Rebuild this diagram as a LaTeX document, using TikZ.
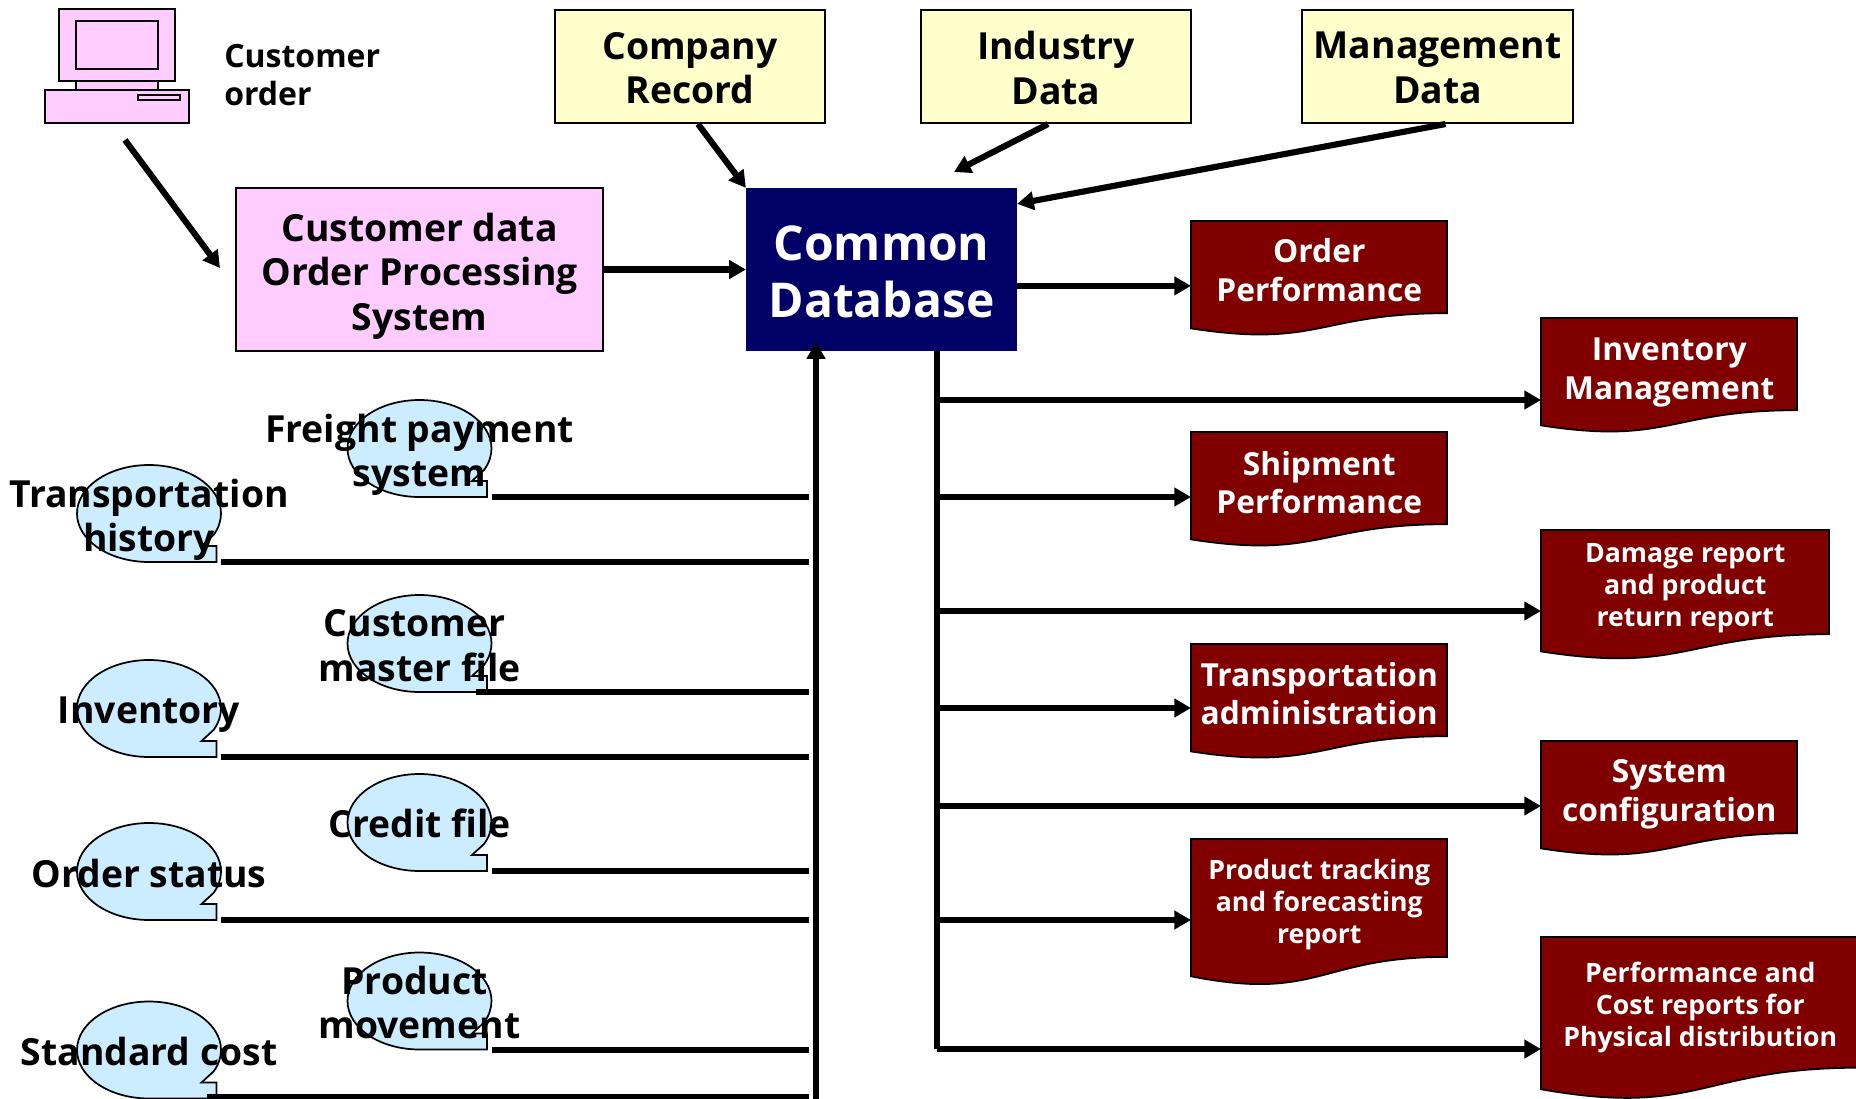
\documentclass[tikz,border=0pt]{standalone}
\usepackage{fontspec}
\setmainfont{Open Sans}
\usetikzlibrary{arrows.meta}

\definecolor{recordyellow}{HTML}{FFFFCC}
\definecolor{orderpink}{HTML}{FFCCFF}
\definecolor{filesblue}{HTML}{CCECFF}
\definecolor{reportred}{HTML}{800000}
\definecolor{dbnavy}{HTML}{000066}

\tikzset{
	thinline/.style={draw=black,line width=1.3pt},
	flow/.style={line width=4.6pt,draw=black},
	flowarrow/.style={flow,-{Triangle[length=12.5pt,width=13.5pt]}},
	boxtext/.style={inner sep=0pt,align=center,font=\bfseries\fontsize{28}{33.3}\selectfont},
	recordbox/.style={thinline,fill=recordyellow,minimum width=203pt,minimum height=85pt,inner sep=0pt},
	orderbox/.style={thinline,fill=orderpink,minimum width=275pt,minimum height=122pt,inner sep=0pt},
	dbbox/.style={fill=dbnavy,minimum width=203pt,minimum height=122pt,inner sep=0pt},
	dbtext/.style={text=white,inner sep=0pt,align=center,font=\bfseries\fontsize{36}{42.6}\selectfont},
	reportbig/.style={font=\bfseries\fontsize{23.8}{29}\selectfont},
	reportsmall/.style={font=\bfseries\fontsize{20}{24}\selectfont},
}

% name, x, y, width, height, font style, text
\newcommand{\reportnode}[7]{
	\begin{scope}[shift={(#2,#3+1)}]
		\draw [thinline,fill=reportred] (0,0) -- (#4,0) -- (#4,{0.802*#5}) .. controls ({0.5*#4},{0.802*#5}) and ({0.5*#4},{1.107*#5}) .. (0,{0.934*#5}) -- cycle;
		\node (#1) [anchor=north west,#6,text=white,align=center,inner sep=0pt,minimum width=#4*0.75pt,minimum height=#5*0.6pt] at (0,0) {#7};
	\end{scope}
}
% name, centre x, centre y, text y offset, text
\newcommand{\bubblenode}[5]{
	\begin{scope}[shift={(#2,#3)}]
		\draw [thinline,fill=filesblue] (0,48.5) arc [start angle=90,end angle=386.3,x radius=72,y radius=48.5] -- (52.5,32.5) -- (67.5,32.5) -- (67.5,48.5) -- cycle;
		\node (#1) [minimum width=108pt,minimum height=72.75pt,inner sep=0pt] at (0,0) {};
		\node (#1text) [boxtext] at (0,#4) {#5};
	\end{scope}
}

\begin{document}
\begin{tikzpicture}[x=0.75pt,y=0.75pt,yscale=-1]
	\useasboundingbox (0,0) rectangle (1856,1099);

	%Shape: Computer
	\draw [thinline,fill=orderpink] (76,81) rectangle (158,90);
	\draw [thinline,fill=orderpink] (59,9) rectangle (175,81);
	\draw [thinline,fill=orderpink] (76,21) rectangle (158,69);
	\draw [thinline,fill=orderpink] (45,90) rectangle (189,123);
	\draw [thinline,fill=orderpink] (138,95) rectangle (180,100);

	% Text Node
	\node (customerorder) [anchor=west,inner sep=0pt,align=left,font=\bfseries\fontsize{24}{28.4}\selectfont] at (224,75) {Customer\\order};

	% Boxes
	\node (company) [recordbox] at (690,66.5) {};
	\node (companytext) [boxtext] at (690,68) {Company\\Record};
	\node (industry) [recordbox] at (1056,66.5) {};
	\node (industrytext) [boxtext] at (1056,68) {Industry\\Data};
	\node (management) [recordbox] at (1437.5,66.5) {};
	\node (managementtext) [boxtext] at (1437.5,68) {Management\\Data};
	\node (orderproc) [orderbox] at (419.5,269.5) {};
	\node (orderproctext) [boxtext] at (419.5,276) {Customer data\\Order Processing\\System};
	\node (db) [dbbox] at (881.5,269.5) {};
	\node (dbname) [dbtext] at (881.5,272) {Common\\Database};

	% Reports
	\reportnode{orderperf}{1191}{220}{256}{115}{reportbig,yshift=-2pt}{Order\\Performance}
	\reportnode{inventorymgmt}{1541}{317}{256}{115}{reportbig,yshift=-6pt}{Inventory\\Management}
	\reportnode{shipmentperf}{1191}{431}{256}{115}{reportbig,yshift=-3.2pt}{Shipment\\Performance}
	\reportnode{damage}{1541}{529}{288}{130}{reportsmall,yshift=-4.4pt}{Damage report\\and product\\return report}
	\reportnode{transport}{1191}{643}{256}{115}{reportbig,yshift=-2.4pt}{Transportation\\administration}
	\reportnode{sysconfig}{1541}{740}{256}{115}{reportbig,yshift=-5.2pt}{System\\configuration}
	\reportnode{tracking}{1191}{838}{256}{147}{reportsmall,yshift=-5pt}{Product tracking\\and forecasting\\report}
	\reportnode{physical}{1541}{936}{318}{163}{reportsmall,yshift=-3.6pt}{Performance and\\Cost reports for\\Physical distribution}

	% Files
	\bubblenode{freight}{419.5}{448.5}{6}{Freight payment\\system}
	\bubblenode{history}{149}{513.5}{6}{Transportation\\history}
	\bubblenode{master}{419.5}{643.5}{2}{Customer\hspace*{0.26em}\\master file}
	\bubblenode{inventory}{149}{708.5}{6}{Inventory}
	\bubblenode{credit}{419.5}{822.5}{1}{Credit file}
	\bubblenode{status}{149}{871.5}{2}{Order status}
	\bubblenode{movement}{419.5}{1001}{1.5}{Product\hspace*{0.26em}\\movement}
	\bubblenode{standard}{149}{1050}{1}{Standard cost}

	%Free ends
	\coordinate (ordertop) at (125,140);
	\coordinate (orderin) at (220,268);
	\coordinate (industryin) at (954,172);
	\coordinate (inbottom) at (816,1099);
	\coordinate (inbus) at (809,0);
	\coordinate (outbus) at (937,0);
	\coordinate (outend) at (937,1049);
	\coordinate (tapinventory) at (937,400);
	\coordinate (tapshipment) at (937,497);
	\coordinate (tapdamage) at (937,611);
	\coordinate (taptransport) at (937,708);
	\coordinate (tapconfig) at (937,806);
	\coordinate (taptracking) at (937,920);

	%Arrows in
	\draw [flowarrow] (ordertop) -- (orderin);
	\draw [flowarrow] ([xshift=6pt]company.south) -- (db.north west);
	\draw [flowarrow] ([xshift=-6pt]industry.south) -- (industryin);
	\draw [flowarrow] ([xshift=6pt]management.south) -- ([yshift=12pt]db.north east);
	\draw [flowarrow] (orderproc.east) -- (db.west);
	\draw [flowarrow] (inbottom) -- ([yshift=-6.75pt]inbottom |- db.south);

	%Straight Lines
	\draw [flow] (freight.south east) -- (freight.south east -| inbus);
	\draw [flow] (history.south east) -- (history.south east -| inbus);
	\draw [flow] ([xshift=-12pt]master.south east) -- (master.south east -| inbus);
	\draw [flow] (inventory.south east) -- (inventory.south east -| inbus);
	\draw [flow] (credit.south east) -- (credit.south east -| inbus);
	\draw [flow] (status.south east) -- (status.south east -| inbus);
	\draw [flow] (movement.south east) -- (movement.south east -| inbus);
	\draw [flow] ([xshift=-11pt,yshift=-1pt]standard.south east) -- ([yshift=-1pt]standard.south east -| inbus);

	%Arrows out
	\draw [flow] (outbus |- db.south) -- (outend);
	\draw [flowarrow] ([yshift=12.3pt]db.east) -- ([yshift=12.3pt]db.east -| orderperf.west);
	\draw [flowarrow] (tapinventory) -- (tapinventory -| inventorymgmt.west);
	\draw [flowarrow] (tapshipment) -- (tapshipment -| shipmentperf.west);
	\draw [flowarrow] (tapdamage) -- (tapdamage -| damage.west);
	\draw [flowarrow] (taptransport) -- (taptransport -| transport.west);
	\draw [flowarrow] (tapconfig) -- (tapconfig -| sysconfig.west);
	\draw [flowarrow] (taptracking) -- (taptracking -| tracking.west);
	\draw [flowarrow] (outend) -- (outend -| physical.west);
\end{tikzpicture}
\end{document}
